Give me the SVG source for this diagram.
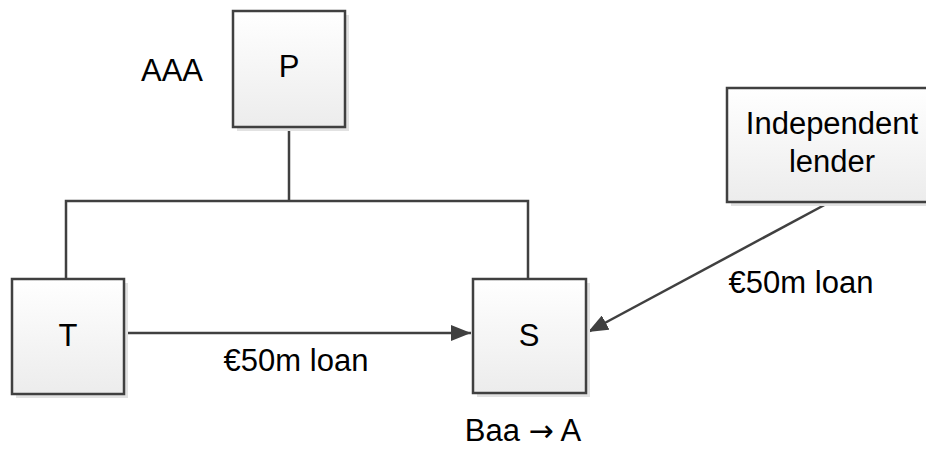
<svg xmlns="http://www.w3.org/2000/svg" width="926" height="450" viewBox="0 0 926 450">
<defs>
<linearGradient id="g" x1="0" y1="0" x2="0" y2="1">
<stop offset="0" stop-color="#ffffff"/>
<stop offset="1" stop-color="#ececec"/>
</linearGradient>
<marker id="ah2" markerWidth="20" markerHeight="16" refX="20" refY="8" orient="auto" markerUnits="userSpaceOnUse" viewBox="0 0 20 16">
<path d="M0,0 L20,8 L0,16 z" fill="#404040"/>
</marker>
</defs>
<style>
.box{fill:url(#g);stroke:#404040;stroke-width:2.5}
.sh{fill:#e2e2e2}
.t{font-family:"Liberation Sans",Arial,sans-serif;font-size:31px;fill:#000}
.c{fill:none;stroke:#404040;stroke-width:2.5}
.ar{font-family:"DejaVu Sans",sans-serif;font-size:30px}
</style>
<g id="connectors">
<path class="c" d="M289,127 V201 M66,279 V201 H528 V279"/>
<path class="c" d="M124,333 H471" marker-end="url(#ah2)"/>
<path class="c" d="M830,202 L588,332" marker-end="url(#ah2)"/>
</g>
<g id="P">
<rect class="sh" x="237" y="15" width="112" height="116"/>
<rect class="box" x="233" y="11" width="112" height="116"/>
<text class="t" x="289" y="77" text-anchor="middle">P</text>
</g>
<g id="T">
<rect class="sh" x="16" y="283" width="112" height="115"/>
<rect class="box" x="12" y="279" width="112" height="115"/>
<text class="t" x="68" y="346" text-anchor="middle">T</text>
</g>
<g id="S">
<rect class="sh" x="477" y="283" width="113" height="114"/>
<rect class="box" x="473" y="279" width="113" height="114"/>
<text class="t" x="529" y="346" text-anchor="middle">S</text>
</g>
<g id="lender">
<rect class="sh" x="731" y="92" width="210" height="114"/>
<rect class="box" x="727" y="88" width="210" height="114"/>
<text class="t" x="832" y="134" text-anchor="middle">Independent</text>
<text class="t" x="832" y="172" text-anchor="middle">lender</text>
</g>
<g id="labels">
<text class="t" x="172" y="81" text-anchor="middle">AAA</text>
<text class="t" x="296" y="371" text-anchor="middle">€50m loan</text>
<text class="t" x="801" y="293" text-anchor="middle">€50m loan</text>
<text class="t" x="523" y="441" text-anchor="middle">Baa <tspan class="ar">→</tspan> A</text>
</g>
</svg>
